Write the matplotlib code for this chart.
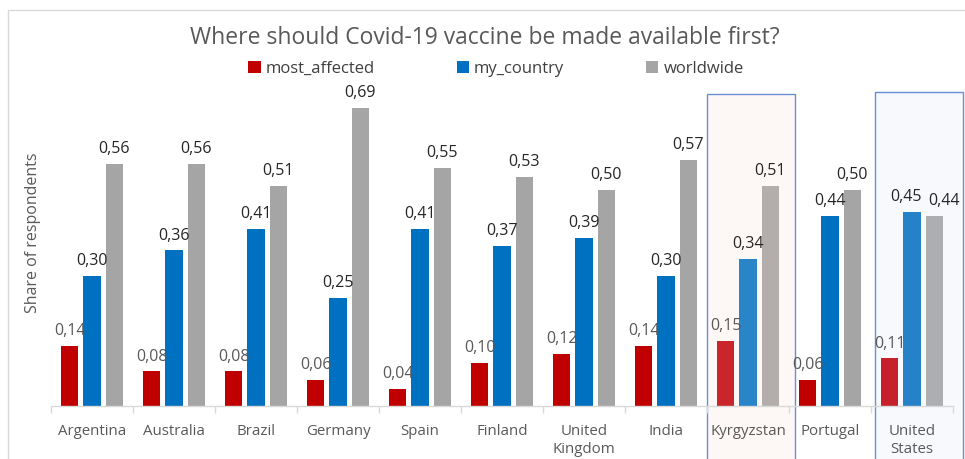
import matplotlib
matplotlib.use("Agg")
import matplotlib.pyplot as plt
from matplotlib.patches import Rectangle
import numpy as np

plt.rcParams['font.family'] = ['Open Sans', 'DejaVu Sans']

countries = ["Argentina", "Australia", "Brazil", "Germany", "Spain", "Finland",
             "United\nKingdom", "India", "Kyrgyzstan", "Portugal", "United\nStates"]
most_affected = [0.14, 0.08, 0.08, 0.06, 0.04, 0.10, 0.12, 0.14, 0.15, 0.06, 0.11]
my_country = [0.30, 0.36, 0.41, 0.25, 0.41, 0.37, 0.39, 0.30, 0.34, 0.44, 0.45]
worldwide = [0.56, 0.56, 0.51, 0.69, 0.55, 0.53, 0.50, 0.57, 0.51, 0.50, 0.44]
series_names = ["most_affected", "my_country", "worldwide"]

base_colors = ["#c00000", "#0070c0", "#a5a5a5"]
highlight_colors = {8: ["#c9252b", "#2a84c8", "#b3aeab"],
                    10: ["#c5202b", "#2581c8", "#adaeb2"]}
highlight_fill = {8: "#fdf8f5", 10: "#f7f9fd"}
# label nudges (category index, series index) -> x shift, to avoid overlap
label_nudge = {(10, 1): -0.07, (10, 2): 0.12}

W, H = 965, 459
fig = plt.figure(figsize=(W / 100, H / 100), dpi=100)

# outer chart border
fig.patches.append(Rectangle((8 / W, -0.01), 1.0, (H - 10) / H + 0.01,
                             transform=fig.transFigure, fill=False,
                             edgecolor="#d9d9d9", linewidth=1.0))

ax_left, ax_right, ax_bottom, ax_top = 51, 953, 406, 60
ax = fig.add_axes([ax_left / W, (H - ax_bottom) / H,
                   (ax_right - ax_left) / W, (ax_bottom - ax_top) / H])
ymax = (ax_bottom - ax_top) / 432.0
ax.set_ylim(0, ymax)
ax.set_xlim(-0.5, len(countries) - 0.5)

x = np.arange(len(countries))
width = 0.21
offsets = [-0.27, 0.0, 0.27]
data = [most_affected, my_country, worldwide]

# highlight boxes
boxes = {8: (7.5, 8.57, 0.722), 10: (9.55, 10.62, 0.727)}
for idx, (x0, x1, top) in boxes.items():
    ax.add_patch(Rectangle((x0, -0.25), x1 - x0, top + 0.25,
                           facecolor=highlight_fill[idx], edgecolor="#6b8fd6",
                           linewidth=1.0, clip_on=False, zorder=0))

for s, (vals, off) in enumerate(zip(data, offsets)):
    cols = [highlight_colors[i][s] if i in highlight_colors else base_colors[s]
            for i in range(len(vals))]
    ax.bar(x + off, vals, width, color=cols, zorder=2, label=series_names[s])
    for i, v in enumerate(vals):
        lc = "#595959" if s == 0 else "#262626"
        ax.text(x[i] + off + label_nudge.get((i, s), 0.0), v + 0.016,
                f"{v:.2f}".replace(".", ","),
                ha="center", va="bottom", fontsize=11.5, color=lc, zorder=3)

for sp in ["top", "right", "left"]:
    ax.spines[sp].set_visible(False)
ax.spines["bottom"].set_color("#d9d9d9")
ax.spines["bottom"].set_linewidth(1.0)
ax.set_yticks([])
ax.set_xticks(x)
ax.set_xticklabels(countries, fontsize=10.8, color="#595959", linespacing=1.3)
ax.tick_params(axis="x", which="major", length=0, pad=13)
ax.set_xticks(np.arange(-0.5, len(countries) + 0.5, 1.0), minor=True)
ax.tick_params(axis="x", which="minor", length=5, color="#d9d9d9", width=1.0)
ax.patch.set_alpha(0)

ax.set_ylabel("Share of respondents", fontsize=11.5, color="#595959", labelpad=7)

fig.text(485 / W, 1 - 38 / H, "Where should Covid-19 vaccine be made available first?",
         ha="center", va="center", fontsize=16.5, color="#595959")

leg = ax.legend(loc="center", bbox_to_anchor=(496 / W, 1 - 69 / H),
                bbox_transform=fig.transFigure, ncol=3, frameon=False,
                fontsize=12, handlelength=0.75, handleheight=0.75,
                columnspacing=4.9, handletextpad=0.3)
for t in leg.get_texts():
    t.set_color("#404040")

fig.savefig("out.png", dpi=100)
